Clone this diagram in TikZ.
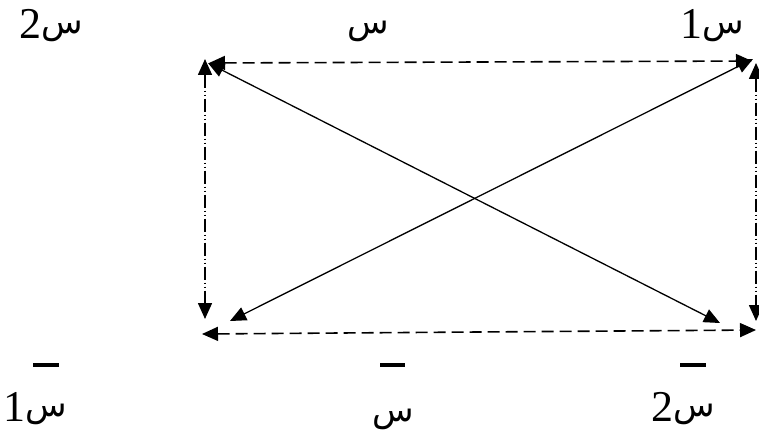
\documentclass[tikz,border=0pt]{standalone}
\usepackage{fontspec}
\setmainfont{Liberation Serif}
\newfontfamily\arabicfont[Script=Arabic]{DejaVu Sans}
\TeXXeTstate=1
\usetikzlibrary{arrows.meta}
\newcommand{\sinchar}{\raisebox{5pt}{\arabicfont\fontsize{34}{40}\selectfont س}}
\begin{document}
\begin{tikzpicture}[x=1pt,y=-1pt,
  lbl/.style={inner sep=0pt,anchor=base,font=\fontsize{44}{50}\selectfont},
  conn/.style={line width=1.6pt,{Triangle[length=16pt,width=14pt]}-{Triangle[length=16pt,width=14pt]}},
  dashline/.style={conn,dash pattern=on 12pt off 6pt},
  dashdot/.style={conn,dash pattern=on 13pt off 3pt on 1pt off 3pt on 1pt off 3pt},
  solidline/.style={conn,line width=1.3pt},
  barline/.style={line width=3.5pt}]
\useasboundingbox (0,0) rectangle (759,430);
% corner points
\coordinate (tlh) at (209,63);
\coordinate (trh) at (752,61);
\coordinate (tlv) at (205,59);
\coordinate (blv) at (205,319);
\coordinate (trv) at (756,63);
\coordinate (brv) at (756,321);
\coordinate (blh) at (202,334);
\coordinate (brh) at (756,330);
\coordinate (d1a) at (208,63);
\coordinate (d1b) at (720,323);
\coordinate (d2a) at (230,321);
\coordinate (d2b) at (753,59);
% connectors
\draw[dashline] (tlh) -- (trh);
\draw[dashline] (blh) -- (brh);
\draw[dashdot] (tlv) -- (blv);
\draw[dashdot] (trv) -- (brv);
\draw[solidline] (d1a) -- (d1b);
\draw[solidline] (d2a) -- (d2b);
% labels
\node[lbl] (ltl) at (51,39) {\beginR\sinchar 2\endR};
\node[lbl] (ltm) at (368,39) {\sinchar};
\node[lbl] (ltr) at (712,39) {\beginR\sinchar 1\endR};
\node[lbl] (lbl1) at (35,421) {\beginR\sinchar 1\endR};
\node[lbl] (lbm) at (393,426) {\sinchar};
\node[lbl] (lbr) at (683,421) {\beginR\sinchar 2\endR};
% bars
\coordinate (b1a) at (33,365); \coordinate (b1b) at (59,365);
\coordinate (b2a) at (380,365); \coordinate (b2b) at (405,365);
\coordinate (b3a) at (680,365); \coordinate (b3b) at (706,365);
\draw[barline] (b1a) -- (b1b);
\draw[barline] (b2a) -- (b2b);
\draw[barline] (b3a) -- (b3b);
\end{tikzpicture}
\end{document}
